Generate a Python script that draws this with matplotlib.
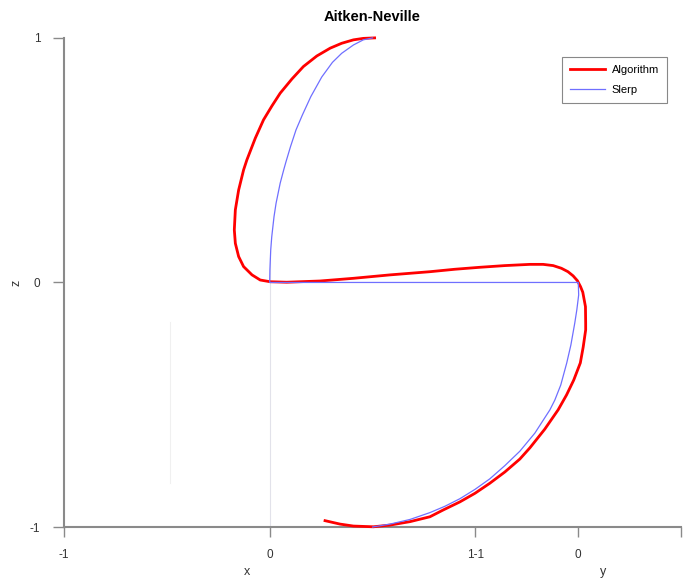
import matplotlib
matplotlib.use("Agg")
import matplotlib.pyplot as plt

plt.rcParams['font.family'] = ['Liberation Sans', 'DejaVu Sans']

# horizontal position is the projected x/y coordinate (x spans -1.5..0.5, y spans 0.5..1.5)
slerp_h = [0.0, -0.045, -0.093, -0.15, -0.195, -0.247, -0.3, -0.341, -0.372, -0.399,
           -0.421, -0.432, -0.449, -0.469, -0.479, -0.49, -0.495, -0.499, -0.5,
           1.0,
           1.002, 0.993, 0.983, 0.964, 0.944, 0.915, 0.886, 0.862, 0.789, 0.716,
           0.643, 0.57, 0.498, 0.425, 0.352, 0.279, 0.182, 0.085, 0.0]
slerp_z = [1.0, 0.992, 0.971, 0.937, 0.9, 0.84, 0.76, 0.685, 0.624, 0.555,
           0.493, 0.46, 0.406, 0.324, 0.269, 0.187, 0.133, 0.051, 0.0,
           0.0,
           -0.051, -0.112, -0.166, -0.256, -0.329, -0.419, -0.481, -0.521, -0.616, -0.69,
           -0.749, -0.803, -0.846, -0.884, -0.915, -0.941, -0.969, -0.988, -1.0]

algo_h = [0.01, -0.045, -0.093, -0.15, -0.206, -0.271, -0.336, -0.392, -0.449, -0.489,
          -0.53, -0.57, -0.611, -0.627, -0.651, -0.667, -0.672, -0.667, -0.651, -0.627,
          -0.586, -0.546, -0.498, -0.417, -0.255, -0.093, 0.085, 0.279, 0.4, 0.521,
          0.643, 0.765, 0.829, 0.878, 0.918, 0.95, 0.975, 0.996, 1.011, 1.022,
          1.035, 1.036, 1.036, 1.024, 1.01, 0.978, 0.943, 0.902, 0.837, 0.765,
          0.716, 0.643, 0.57, 0.498, 0.425, 0.344, 0.279, 0.182, 0.085, 0.004,
          -0.093, -0.158, -0.231]
algo_z = [1.0, 0.998, 0.992, 0.978, 0.958, 0.926, 0.883, 0.832, 0.774, 0.722,
          0.665, 0.59, 0.501, 0.46, 0.378, 0.297, 0.215, 0.16, 0.106, 0.065,
          0.031, 0.01, 0.003, 0.001, 0.006, 0.017, 0.031, 0.044, 0.054, 0.062,
          0.069, 0.074, 0.074, 0.069, 0.058, 0.044, 0.027, 0.007, -0.017, -0.04,
          -0.099, -0.167, -0.194, -0.264, -0.329, -0.399, -0.46, -0.521, -0.6, -0.676,
          -0.722, -0.775, -0.821, -0.862, -0.897, -0.93, -0.958, -0.978, -0.992, -0.999,
          -0.996, -0.988, -0.974]

h_ticks = [-1.5, -0.5, 0.5, 1.0, 1.5]
h_labels = ["-1", "0", "1-1", "0", ""]
z_ticks = [-1, 0, 1]
z_labels = ["-1", "0", "1"]

fig = plt.figure(figsize=(6.88, 5.83), dpi=100)
ax = fig.add_axes([0.093, 0.096, 0.897, 0.839])

# faint guide lines behind the curves
ax.plot([-0.5, -0.5], [-1, 0.1], color="#e2e2ea", lw=0.8, zorder=0)
ax.plot([-0.983, -0.983], [-0.82, -0.16], color="#f0f0f0", lw=0.8, zorder=0)

ax.plot(algo_h, algo_z, color="red", lw=2.0, label="Algorithm", clip_on=False,
        zorder=3, solid_joinstyle="round")
ax.plot(slerp_h, slerp_z, color="#6f6fff", lw=0.9, label="Slerp", clip_on=False,
        zorder=4, solid_joinstyle="round")

ax.set_xlim(-1.5, 1.5)
ax.set_ylim(-1, 1)

for side in ["top", "right"]:
    ax.spines[side].set_visible(False)
for side in ["left", "bottom"]:
    ax.spines[side].set_color("#8a8a8a")
    ax.spines[side].set_linewidth(1.5)

ax.set_xticks(h_ticks)
ax.set_xticklabels(h_labels)
ax.set_yticks(z_ticks)
ax.set_yticklabels(z_labels)
ax.tick_params(axis="x", direction="out", length=7, width=1, color="#8a8a8a",
               labelsize=8.5, pad=9, labelcolor="#333333")
ax.tick_params(axis="y", direction="out", length=8, width=1, color="#8a8a8a",
               labelsize=8.5, pad=9, labelcolor="#333333")

ax.text(-0.61, -1.185, "x", ha="center", va="center", fontsize=9, color="#333333")
ax.text(1.12, -1.185, "y", ha="center", va="center", fontsize=9, color="#333333")
ax.set_ylabel("z", fontsize=9, color="#333333", labelpad=5)

ax.set_title("Aitken-Neville", fontsize=10.5, fontweight="bold", pad=12)

leg = ax.legend(loc="upper right", bbox_to_anchor=(0.977, 0.961), borderaxespad=0,
                fontsize=8, fancybox=False, framealpha=1, edgecolor="#888888",
                handlelength=3.2, handletextpad=0.6, labelspacing=0.9, borderpad=0.7)
leg.get_frame().set_linewidth(0.8)

fig.savefig("out.png", dpi=100)
